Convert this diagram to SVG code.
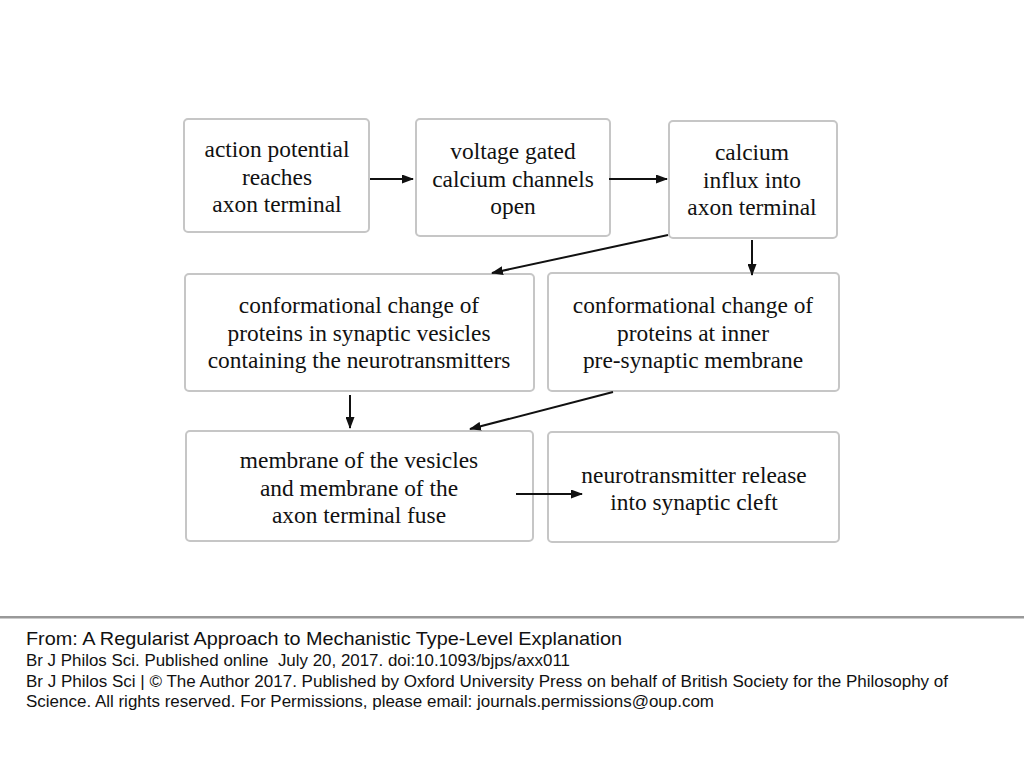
<svg xmlns="http://www.w3.org/2000/svg" width="1024" height="768" viewBox="0 0 1024 768">
<defs>
<marker id="ah" markerWidth="12" markerHeight="9" refX="11" refY="4.5" orient="auto" markerUnits="userSpaceOnUse">
<path d="M0,0 L12,4.5 L0,9 Z" fill="#111"/>
</marker>
<style>
.box{fill:#fff;stroke:#c6c6c6;stroke-width:2}
.t{font-family:"Liberation Serif","Times New Roman",serif;font-size:23.4px;fill:#111;text-anchor:middle}
.c{stroke:#111;stroke-width:2;fill:none;marker-end:url(#ah)}
.f{font-family:"Liberation Sans",Arial,sans-serif;fill:#111}
</style>
</defs>
<rect width="1024" height="768" fill="#fff"/>
<g id="n1"><rect class="box" x="184" y="119" width="185" height="113" rx="4"/>
<text class="t"><tspan x="277" y="157">action potential</tspan><tspan x="277" y="184.5">reaches</tspan><tspan x="277" y="212">axon terminal</tspan></text></g>
<g id="n2"><rect class="box" x="416" y="119" width="194" height="117" rx="4"/>
<text class="t"><tspan x="513" y="159">voltage gated</tspan><tspan x="513" y="187">calcium channels</tspan><tspan x="513" y="214">open</tspan></text></g>
<g id="n3"><rect class="box" x="669" y="121" width="168" height="117" rx="4"/>
<text class="t"><tspan x="752" y="160">calcium</tspan><tspan x="752" y="187.5">influx into</tspan><tspan x="752" y="215">axon terminal</tspan></text></g>
<g id="n4"><rect class="box" x="185" y="274" width="349" height="117" rx="4"/>
<text class="t"><tspan x="359" y="313">conformational change of</tspan><tspan x="359" y="340.5">proteins in synaptic vesicles</tspan><tspan x="359" y="368">containing the neurotransmitters</tspan></text></g>
<g id="n5"><rect class="box" x="548" y="273" width="291" height="118" rx="4"/>
<text class="t"><tspan x="693" y="313">conformational change of</tspan><tspan x="693" y="340.5">proteins at inner</tspan><tspan x="693" y="368">pre-synaptic membrane</tspan></text></g>
<g id="n6"><rect class="box" x="186" y="431" width="347" height="110" rx="4"/>
<text class="t"><tspan x="359" y="468">membrane of the vesicles</tspan><tspan x="359" y="496">and membrane of the</tspan><tspan x="359" y="523">axon terminal fuse</tspan></text></g>
<g id="n7"><rect class="box" x="548" y="432" width="291" height="110" rx="4"/>
<text class="t"><tspan x="694" y="483">neurotransmitter release</tspan><tspan x="694" y="510">into synaptic cleft</tspan></text></g>
<g id="connectors">
<line class="c" x1="370" y1="179" x2="413" y2="179"/>
<line class="c" x1="609" y1="179" x2="667" y2="179"/>
<line class="c" x1="668" y1="235" x2="492" y2="273"/>
<line class="c" x1="752" y1="240" x2="752" y2="275"/>
<line class="c" x1="350" y1="395" x2="350" y2="428"/>
<line class="c" x1="613" y1="392" x2="470" y2="429"/>
<line class="c" x1="516" y1="494" x2="582" y2="494"/>
</g>
<rect x="0" y="616" width="1024" height="2.5" fill="#999"/>
<g id="footer">
<text class="f" x="26" y="645" font-size="19" textLength="596" lengthAdjust="spacingAndGlyphs">From: A Regularist Approach to Mechanistic Type-Level Explanation</text>
<text class="f" x="26" y="666" font-size="16" textLength="544" lengthAdjust="spacingAndGlyphs" xml:space="preserve">Br J Philos Sci. Published online  July 20, 2017. doi:10.1093/bjps/axx011</text>
<text class="f" x="26" y="687" font-size="16" textLength="922" lengthAdjust="spacingAndGlyphs">Br J Philos Sci | © The Author 2017. Published by Oxford University Press on behalf of British Society for the Philosophy of</text>
<text class="f" x="26" y="707" font-size="16" textLength="688" lengthAdjust="spacingAndGlyphs">Science. All rights reserved. For Permissions, please email: journals.permissions@oup.com</text>
</g>
</svg>
